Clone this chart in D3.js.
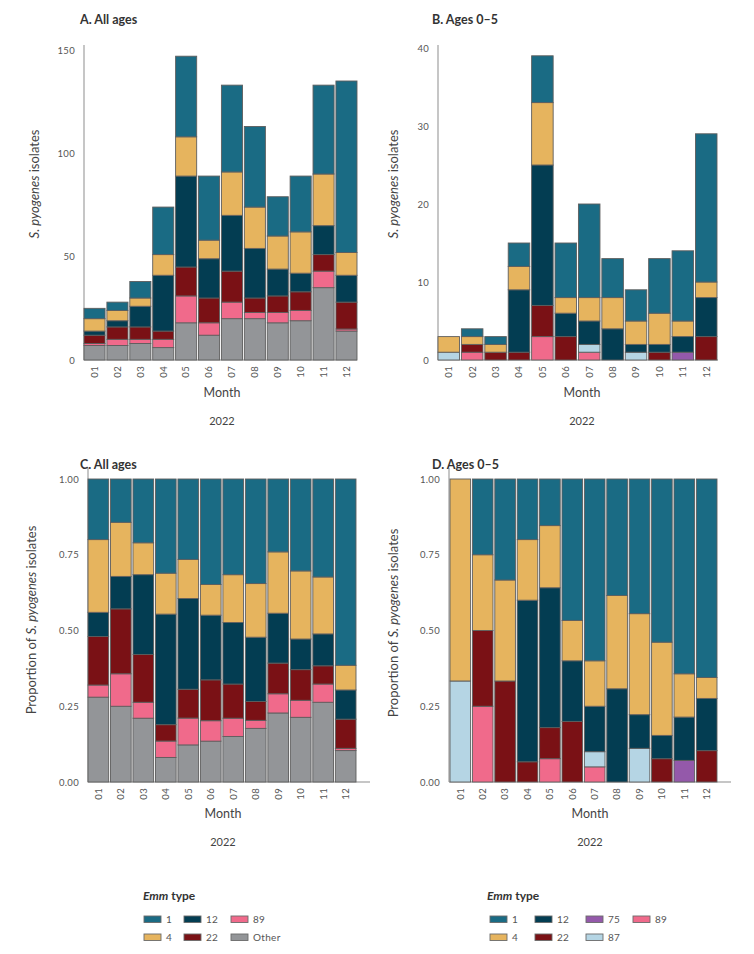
<!DOCTYPE html>
<html>
<head>
<meta charset="utf-8">
<script src="https://cdn.jsdelivr.net/npm/d3@7"></script>
<style>
  html, body { margin: 0; padding: 0; background: #fff; }
  svg { display: block; font-family: Lato, "Open Sans", sans-serif; }
</style>
</head>
<body>
<svg id="chart" width="754" height="954"></svg>
<script>
// ---- Data ----
const months = ["01","02","03","04","05","06","07","08","09","10","11","12"];
const year = "2022";

// All ages, counts per emm type
const allOther = [7, 7, 8, 6, 18, 12, 20, 20, 18, 19, 35, 14];
const all89    = [1, 3, 2, 4, 13, 6, 8, 3, 5, 5, 8, 1];
const all22    = [4, 6, 6, 4, 14, 12, 15, 7, 8, 9, 8, 13];
const all12    = [2, 3, 10, 27, 44, 19, 27, 24, 13, 9, 14, 13];
const all4     = [6, 5, 4, 10, 19, 9, 21, 20, 16, 20, 25, 11];
const all1     = [5, 4, 8, 23, 39, 31, 42, 39, 19, 27, 43, 83];

// Ages 0-5, counts per emm type
const young89 = [0, 1, 0, 0, 3, 0, 1, 0, 0, 0, 0, 0];
const young87 = [1, 0, 0, 0, 0, 0, 1, 0, 1, 0, 0, 0];
const young75 = [0, 0, 0, 0, 0, 0, 0, 0, 0, 0, 1, 0];
const young22 = [0, 1, 1, 1, 4, 3, 0, 0, 0, 1, 0, 3];
const young12 = [0, 0, 0, 8, 18, 3, 3, 4, 1, 1, 2, 5];
const young4  = [2, 1, 1, 3, 8, 2, 3, 4, 3, 4, 2, 2];
const young1  = [0, 1, 1, 3, 6, 7, 12, 5, 4, 7, 9, 19];

const countTicksA = [0, 50, 100, 150];
const countTicksB = [0, 10, 20, 30, 40];
const propTicks = [0, 0.25, 0.5, 0.75, 1];

const allKeys = ["Other", "89", "22", "12", "4", "1"];
const youngKeys = ["89", "87", "75", "22", "12", "4", "1"];

const colors = {
  "1": "#1a6b84",
  "4": "#e6b45e",
  "12": "#033d52",
  "22": "#7a1115",
  "75": "#9459aa",
  "87": "#b5d5e4",
  "89": "#f06a8b",
  "Other": "#939598"
};

function buildRows(keys, series) {
  return months.map((m, i) => {
    const r = { month: m };
    keys.forEach(k => r[k] = series[k][i]);
    return r;
  });
}
const allRows = buildRows(allKeys, { "Other": allOther, "89": all89, "22": all22, "12": all12, "4": all4, "1": all1 });
const youngRows = buildRows(youngKeys, { "89": young89, "87": young87, "75": young75, "22": young22, "12": young12, "4": young4, "1": young1 });

const svg = d3.select("#chart");
const textColor = "#444";
const tickColor = "#555";
const axisColor = "#b3b3b3";

function panel(cfg) {
  const g = svg.append("g");
  const x = d3.scaleBand().domain(months).range([cfg.x0, cfg.x1]).paddingInner(0.08).paddingOuter(0);
  const y = d3.scaleLinear().domain(cfg.domain).range([cfg.yBottom, cfg.yTop]);

  const stack = d3.stack().keys(cfg.keys);
  if (cfg.expand) stack.offset(d3.stackOffsetExpand);
  const layers = stack(cfg.rows);

  // axis lines
  g.append("line").attr("x1", cfg.axisX).attr("x2", cfg.axisX)
    .attr("y1", cfg.axisTop).attr("y2", cfg.yBottom)
    .attr("stroke", axisColor).attr("stroke-width", 1.5);
  g.append("line").attr("x1", cfg.axisX).attr("x2", cfg.xAxisEnd)
    .attr("y1", cfg.yBottom).attr("y2", cfg.yBottom)
    .attr("stroke", axisColor).attr("stroke-width", 1.5);

  layers.forEach(layer => {
    g.append("g").selectAll("rect")
      .data(layer.filter(d => (d[1] - d[0]) > 0))
      .join("rect")
      .attr("x", d => x(d.data.month))
      .attr("width", x.bandwidth())
      .attr("y", d => y(d[1]))
      .attr("height", d => y(d[0]) - y(d[1]))
      .attr("fill", colors[layer.key])
      .attr("stroke", "#5e5e5e")
      .attr("stroke-width", 0.9);
  });

  // y ticks
  const yAxis = d3.axisLeft(y).tickValues(cfg.ticks).tickSize(0).tickPadding(0)
    .tickFormat(cfg.expand ? d3.format(".2f") : d3.format("d"));
  const ya = g.append("g").attr("transform", `translate(${cfg.axisX - 9},0)`).call(yAxis);
  ya.select(".domain").remove();
  ya.selectAll("text").attr("fill", tickColor).style("font-size", "9.5px")
    .style("font-family", "Lato, 'Open Sans', sans-serif").style("letter-spacing", "0.3px");

  // x ticks rotated
  const xAxis = d3.axisBottom(x).tickSize(0).tickPadding(0);
  const xa = g.append("g").attr("transform", `translate(0,${cfg.yBottom})`).call(xAxis);
  xa.select(".domain").remove();
  xa.selectAll("text")
    .attr("transform", "rotate(-90)")
    .attr("x", -6).attr("y", 0).attr("dy", "0.35em")
    .style("text-anchor", "end")
    .attr("fill", tickColor).style("font-size", "9.5px")
    .style("font-family", "Lato, 'Open Sans', sans-serif").style("letter-spacing", "0.3px");

  // title
  g.append("text").attr("x", cfg.titleX).attr("y", cfg.titleY)
    .attr("fill", "#333").style("font-size", "12.5px").style("font-weight", "bold")
    .text(cfg.title);

  // y label
  const yl = g.append("text")
    .attr("transform", `translate(${cfg.yLabelX},${cfg.yLabelY}) rotate(-90)`)
    .attr("text-anchor", "middle").attr("fill", textColor).style("font-size", "13px");
  if (cfg.expand) {
    yl.append("tspan").text("Proportion of ");
    yl.append("tspan").style("font-style", "italic").text("S. pyogenes");
    yl.append("tspan").text(" isolates");
  } else {
    yl.append("tspan").style("font-style", "italic").text("S. pyogenes");
    yl.append("tspan").text(" isolates");
  }

  const cx = cfg.labelCX;
  g.append("text").attr("x", cx).attr("y", cfg.monthY).attr("text-anchor", "middle")
    .attr("fill", textColor).style("font-size", "12.5px").text("Month");
  g.append("text").attr("x", cx).attr("y", cfg.monthY + 28).attr("text-anchor", "middle")
    .attr("fill", textColor).style("font-size", "11px").text(year);
}

panel({ rows: allRows, keys: allKeys, expand: false, domain: [0, 150], ticks: countTicksA,
  x0: 84, x1: 357, yTop: 50, yBottom: 360, axisX: 84, axisTop: 45, xAxisEnd: 357,
  title: "A. All ages", titleX: 80, titleY: 24, yLabelX: 39, yLabelY: 184, labelCX: 222, monthY: 397 });

panel({ rows: youngRows, keys: youngKeys, expand: false, domain: [0, 40], ticks: countTicksB,
  x0: 438, x1: 717, yTop: 48, yBottom: 360, axisX: 438, axisTop: 45, xAxisEnd: 718,
  title: "B. Ages 0–5", titleX: 432, titleY: 24, yLabelX: 398, yLabelY: 184, labelCX: 582, monthY: 397 });

panel({ rows: allRows, keys: allKeys, expand: true, domain: [0, 1], ticks: propTicks,
  x0: 88, x1: 356, yTop: 479, yBottom: 782, axisX: 88, axisTop: 468, xAxisEnd: 370,
  title: "C. All ages", titleX: 80, titleY: 469, yLabelX: 36, yLabelY: 620, labelCX: 223, monthY: 818 });

panel({ rows: youngRows, keys: youngKeys, expand: true, domain: [0, 1], ticks: propTicks,
  x0: 450, x1: 717, yTop: 479, yBottom: 782, axisX: 449, axisTop: 468, xAxisEnd: 731,
  title: "D. Ages 0–5", titleX: 432, titleY: 469, yLabelX: 398, yLabelY: 623, labelCX: 590, monthY: 818 });

// legends
function legend(x0, rows) {
  const g = svg.append("g");
  const t = g.append("text").attr("x", x0).attr("y", 900).attr("fill", "#333")
    .style("font-size", "12px").style("font-weight", "bold");
  t.append("tspan").style("font-style", "italic").text("Emm");
  t.append("tspan").text(" type");
  rows.forEach((row, ri) => {
    row.forEach(item => {
      const yy = 916 + ri * 18;
      g.append("rect").attr("x", item.x).attr("y", yy).attr("width", 17).attr("height", 6.5)
        .attr("fill", colors[item.key]).attr("stroke", "#6a6a6a").attr("stroke-width", 0.9);
      g.append("text").attr("x", item.x + 22).attr("y", yy + 6.5).attr("fill", tickColor)
        .style("font-size", "10px").style("letter-spacing", "0.3px").text(item.key);
    });
  });
}
legend(143, [
  [{ key: "1", x: 144 }, { key: "12", x: 184 }, { key: "89", x: 231 }],
  [{ key: "4", x: 144 }, { key: "22", x: 184 }, { key: "Other", x: 231 }]
]);
legend(487, [
  [{ key: "1", x: 490 }, { key: "12", x: 535 }, { key: "75", x: 586 }, { key: "89", x: 633 }],
  [{ key: "4", x: 490 }, { key: "22", x: 535 }, { key: "87", x: 586 }]
]);
</script>
</body>
</html>
